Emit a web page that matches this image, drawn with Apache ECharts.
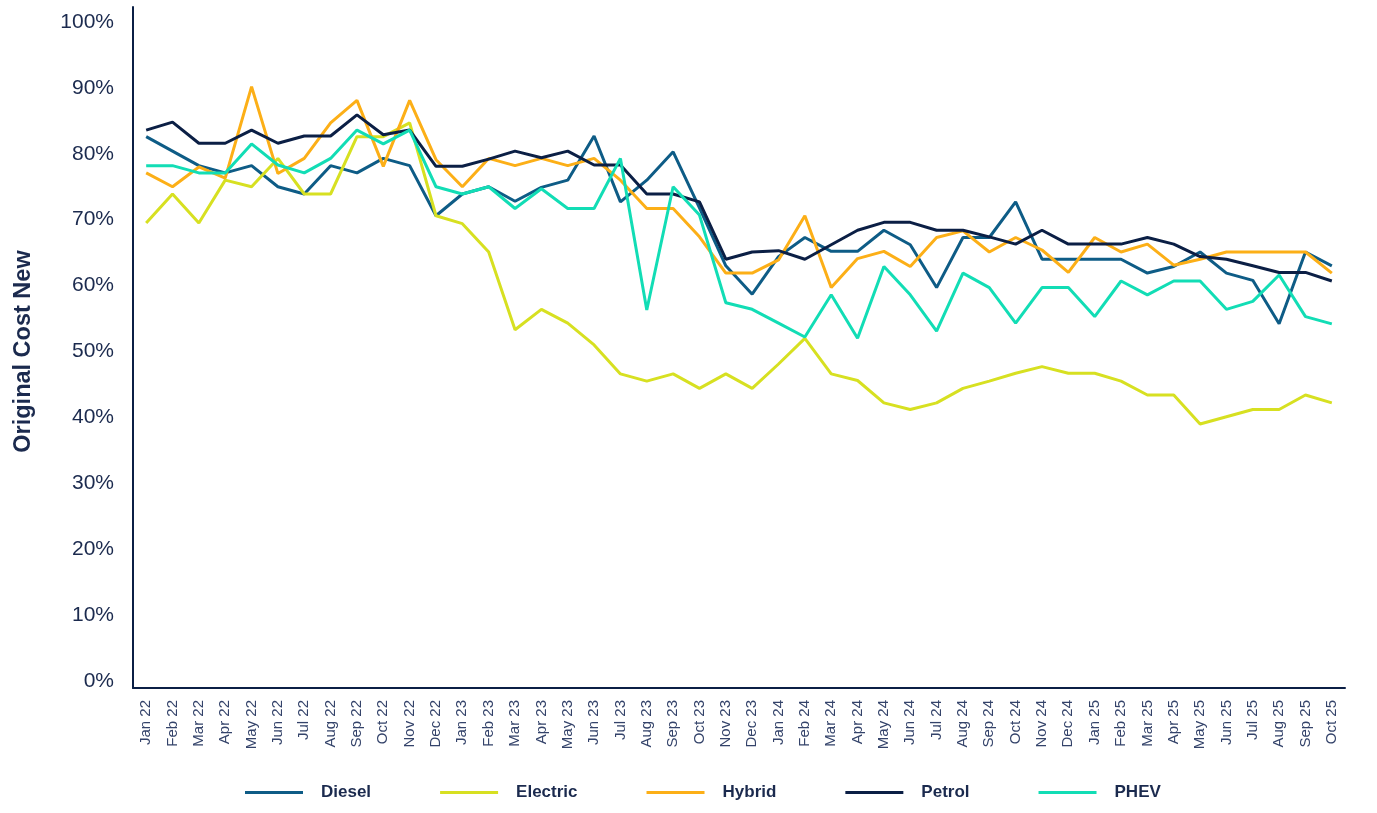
<!DOCTYPE html>
<html>
<head>
<meta charset="utf-8">
<script src="https://cdn.jsdelivr.net/npm/echarts@6/dist/echarts.min.js"></script>
<style>
  html, body { margin: 0; padding: 0; background: #fff; }
  #chart { width: 1377px; height: 813px; }
</style>
</head>
<body>
<div id="chart"></div>
<script>
var months = ['Jan 22','Feb 22','Mar 22','Apr 22','May 22','Jun 22','Jul 22','Aug 22','Sep 22','Oct 22','Nov 22','Dec 22',
  'Jan 23','Feb 23','Mar 23','Apr 23','May 23','Jun 23','Jul 23','Aug 23','Sep 23','Oct 23','Nov 23','Dec 23',
  'Jan 24','Feb 24','Mar 24','Apr 24','May 24','Jun 24','Jul 24','Aug 24','Sep 24','Oct 24','Nov 24','Dec 24',
  'Jan 25','Feb 25','Mar 25','Apr 25','May 25','Jun 25','Jul 25','Aug 25','Sep 25','Oct 25'];

var diesel = [82.6,80.4,78.2,77.1,78.2,75.0,73.9,78.2,77.1,79.3,78.2,70.6,
  73.9,75.0,72.8,74.9,76.0,82.7,72.7,76.0,80.3,71.8,63.0,58.7,
  64.4,67.3,65.2,65.2,68.4,66.2,59.7,67.3,67.3,72.7,64.0,64.0,
  64.0,64.0,61.9,62.9,65.1,61.9,60.8,54.2,65.1,63.0];

var electric = [69.5,73.9,69.5,76.0,75.0,79.3,73.9,73.9,82.6,82.6,84.7,70.6,
  69.4,65.1,53.3,56.4,54.3,51.0,46.6,45.5,46.6,44.4,46.6,44.4,
  48.1,52.0,46.6,45.6,42.2,41.2,42.2,44.4,45.5,46.7,47.7,46.7,
  46.7,45.5,43.4,43.4,39.0,40.1,41.2,41.2,43.4,42.2];

var hybrid = [77.1,75.0,78.0,76.3,90.2,77.0,79.3,84.7,88.1,78.1,88.1,79.1,
  75.0,79.3,78.2,79.3,78.2,79.3,76.0,71.7,71.7,67.4,61.9,61.9,
  63.9,70.6,59.7,64.1,65.2,62.9,67.3,68.3,65.1,67.3,65.4,62.0,
  67.3,65.1,66.3,63.1,64.0,65.1,65.1,65.1,65.1,61.9];

var petrol = [83.6,84.8,81.6,81.6,83.6,81.6,82.7,82.7,85.9,82.9,83.6,78.1,
  78.1,79.2,80.4,79.4,80.4,78.3,78.3,73.9,73.9,72.7,64.0,65.1,
  65.3,64.0,66.2,68.4,69.6,69.6,68.4,68.4,67.4,66.3,68.4,66.3,
  66.3,66.3,67.3,66.3,64.4,64.0,63.0,62.0,62.0,60.7];

var phev = [78.2,78.2,77.1,77.1,81.5,78.3,77.1,79.3,83.6,81.5,83.6,75.0,
  73.9,75.0,71.7,74.7,71.7,71.7,79.3,56.3,75.0,70.7,57.4,56.4,
  54.3,52.2,58.6,52.0,62.9,58.6,53.1,61.9,59.7,54.3,59.7,59.7,
  55.3,60.7,58.6,60.7,60.7,56.4,57.6,61.6,55.3,54.2];

var seriesNames = ['Diesel','Electric','Hybrid','Petrol','PHEV'];
var seriesColors = ['#0E5C86','#D7E021','#FCAF17','#0B1F45','#12DDB5'];
var seriesData = [diesel, electric, hybrid, petrol, phev];

var navy = '#1B2A4E';
var labelGrey = '#34436A';
var font = 'Liberation Sans, Arial, sans-serif';

var myChart = echarts.init(document.getElementById('chart'));

var series = [];
for (var i = 0; i < seriesNames.length; i++) {
  series.push({
    name: seriesNames[i],
    type: 'line',
    xAxisIndex: 0,
    yAxisIndex: 0,
    data: seriesData[i],
    showSymbol: false,
    symbol: 'none',
    itemStyle: { color: seriesColors[i] },
    lineStyle: { color: seriesColors[i], width: 3 }
  });
}

var option = {
  animation: false,
  backgroundColor: '#fff',
  textStyle: { fontFamily: font },
  legend: {
    data: seriesNames,
    left: 245,
    top: 784,
    padding: 0,
    icon: 'rect',
    itemWidth: 58,
    itemHeight: 3,
    itemGap: 69,
    textStyle: {
      color: navy,
      fontSize: 17,
      fontWeight: 'bold',
      fontFamily: font,
      padding: [0, 0, 0, 13]
    }
  },
  grid: [
    // plot area used for the data and the tick labels
    { left: 133, right: 32, top: 22, bottom: 132, outerBoundsMode: 'none' },
    // slightly larger frame only for the two axis lines
    { left: 133, right: 32, top: 7, bottom: 125, outerBoundsMode: 'none' }
  ],
  xAxis: [
    {
      type: 'category',
      gridIndex: 0,
      data: months,
      boundaryGap: true,
      axisLine: { show: false },
      axisTick: { show: false },
      splitLine: { show: false },
      axisLabel: {
        rotate: 90,
        interval: 0,
        margin: 19,
        color: labelGrey,
        fontSize: 15,
        fontFamily: font
      }
    },
    {
      type: 'value',
      gridIndex: 1,
      min: 0,
      max: 1,
      axisLine: { show: true, lineStyle: { color: '#0B1F45', width: 2 } },
      axisTick: { show: false },
      axisLabel: { show: false },
      splitLine: { show: false }
    }
  ],
  yAxis: [
    {
      type: 'value',
      gridIndex: 0,
      min: 0,
      max: 100,
      interval: 10,
      name: 'Original Cost New',
      nameLocation: 'middle',
      nameGap: 97,
      nameTextStyle: { color: navy, fontSize: 23.5, fontWeight: 'bold', fontFamily: font },
      axisLine: { show: false },
      axisTick: { show: false },
      splitLine: { show: false },
      axisLabel: {
        formatter: '{value}%',
        margin: 19,
        color: navy,
        fontSize: 21,
        fontFamily: font
      }
    },
    {
      type: 'value',
      gridIndex: 1,
      min: 0,
      max: 1,
      axisLine: { show: true, lineStyle: { color: '#0B1F45', width: 2 } },
      axisTick: { show: false },
      axisLabel: { show: false },
      splitLine: { show: false }
    }
  ],
  series: series
};

myChart.setOption(option);
</script>
</body>
</html>
